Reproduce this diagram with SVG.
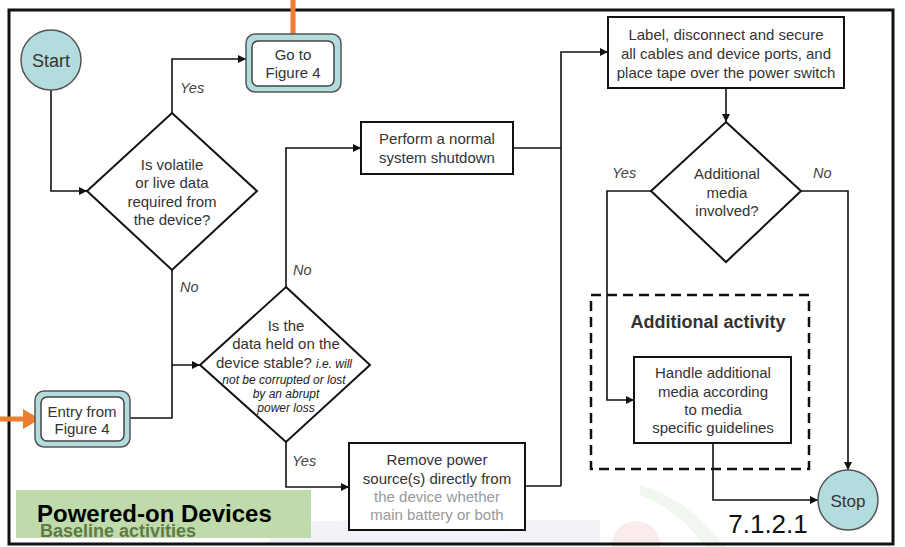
<svg xmlns="http://www.w3.org/2000/svg" width="905" height="547" viewBox="0 0 905 547">
<style>
  text { font-family: "Liberation Sans", Arial, sans-serif; fill: #333; }
  .t { font-size: 15px; text-anchor: middle; }
  .lab { font-size: 14.5px; font-style: italic; fill: #444; }
  .sm { font-size: 12px; font-style: italic; fill: #222; }
  .box { fill: #fff; stroke: #111; stroke-width: 2; }
  .dia { fill: #fff; stroke: #111; stroke-width: 2; }
  .term { fill: #b3dcdf; stroke: #555; stroke-width: 1.5; }
  .outer { fill: #b3dcdf; stroke: #555; stroke-width: 1.5; }
  .inner { fill: #fff; stroke: #444; stroke-width: 1.5; }
  .c { fill: none; stroke: #111; stroke-width: 1.6; marker-end: url(#ah); }
  .cn { fill: none; stroke: #111; stroke-width: 1.6; }
</style>
<defs>
  <marker id="ah" viewBox="0 0 10 10" refX="10" refY="5" markerWidth="8" markerHeight="8" markerUnits="userSpaceOnUse" orient="auto">
    <path d="M0,0 L10,5 L0,10 z" fill="#111"/>
  </marker>
</defs>
<rect width="905" height="547" fill="#fff"/>
<!-- faint watermark -->
<g id="watermark" opacity="0.45">
  <path d="M270,543 L270,522 L380,520 Q420,500 470,520 L600,520 L600,543 z" fill="#e4e2f0"/>
  <circle cx="636" cy="545" r="24" fill="#f7d3d3"/>
  <path d="M640,485 Q690,500 725,547 L705,547 Q680,510 640,495 z" fill="#dcefdc"/>
</g>
<rect id="frame" x="9" y="10" width="884" height="534" fill="none" stroke="#111" stroke-width="3"/>

<g id="connectors">
  <polyline class="c" points="51,90 51,191 87,191"/>
  <polyline class="c" points="172,113 172,59 246,59"/>
  <polyline class="c" points="172,270 172,365 200,365"/>
  <polyline class="cn" points="130,418 172,418 172,365"/>
  <polyline class="c" points="286,287 286,148 361,148"/>
  <polyline class="cn" points="513,148 561,148"/>
  <polyline class="c" points="561,486 561,52 608,52"/>
  <polyline class="c" points="286,442 286,487 349,487"/>
  <polyline class="cn" points="525,486 561,486"/>
  <polyline class="c" points="726,88 726,122"/>
  <polyline class="c" points="651,191 607,191 607,400 634,400"/>
  <polyline class="c" points="801,191 848,191 848,470"/>
  <polyline class="c" points="713,443 713,500 818,500"/>
  <!-- orange off-page links -->
  <line x1="293" y1="0" x2="293" y2="34" stroke="#ed7d31" stroke-width="5"/>
  <line x1="0" y1="419" x2="25" y2="419" stroke="#ed7d31" stroke-width="5"/>
  <path d="M23,409 L40,419 L23,429 z" fill="#ed7d31"/>
</g>

<g id="start">
  <circle class="term" cx="51" cy="60" r="30"/>
  <text x="51" y="67" text-anchor="middle" style="font-size:18px">Start</text>
</g>

<g id="goto">
  <rect class="outer" x="246" y="34" width="95" height="58" rx="9"/>
  <rect class="inner" x="252" y="41" width="82" height="45" rx="6"/>
  <text class="t" x="293" y="60">Go to</text>
  <text class="t" x="293" y="78">Figure 4</text>
</g>

<g id="q1">
  <polygon class="dia" points="172,113 257,191 172,270 87,191"/>
  <text class="t" x="172" y="170">Is volatile</text>
  <text class="t" x="172" y="188">or live data</text>
  <text class="t" x="172" y="207">required from</text>
  <text class="t" x="172" y="225">the device?</text>
</g>

<g id="entry">
  <rect class="outer" x="35" y="391" width="95" height="56" rx="9"/>
  <rect class="inner" x="41" y="397" width="83" height="44" rx="6"/>
  <text class="t" x="82" y="417">Entry from</text>
  <text class="t" x="82" y="434">Figure 4</text>
</g>

<g id="q2">
  <polygon class="dia" points="286,287 370,365 286,442 200,365"/>
  <text class="t" x="286" y="331">Is the</text>
  <text class="t" x="286" y="349">data held on the</text>
  <text x="284" y="368" text-anchor="middle" style="font-size:15px">device stable? <tspan style="font-size:12px;font-style:italic;fill:#222">i.e. will</tspan></text>
  <text class="sm" x="284" y="384" text-anchor="middle">not be corrupted or lost</text>
  <text class="sm" x="286" y="398" text-anchor="middle">by an abrupt</text>
  <text class="sm" x="286" y="412" text-anchor="middle">power loss</text>
</g>

<g id="shutdown">
  <rect class="box" x="361" y="122" width="152" height="52"/>
  <text class="t" x="437" y="144">Perform a normal</text>
  <text class="t" x="437" y="163">system shutdown</text>
</g>

<g id="remove">
  <rect class="box" x="349" y="443" width="176" height="87"/>
  <text class="t" x="437" y="465">Remove power</text>
  <text class="t" x="437" y="484">source(s) directly from</text>
  <text class="t" x="437" y="502" style="fill:#999">the device whether</text>
  <text class="t" x="437" y="520" style="fill:#999">main battery or both</text>
</g>

<g id="label">
  <rect class="box" x="608" y="17" width="236" height="71"/>
  <text class="t" x="726" y="40">Label, disconnect and secure</text>
  <text class="t" x="726" y="59">all cables and device ports, and</text>
  <text class="t" x="726" y="78">place tape over the power switch</text>
</g>

<g id="q3">
  <polygon class="dia" points="726,122 801,191 726,262 651,191"/>
  <text class="t" x="727" y="179">Additional</text>
  <text class="t" x="727" y="198">media</text>
  <text class="t" x="727" y="216">involved?</text>
</g>

<g id="additional">
  <rect x="591" y="295" width="218" height="174" fill="none" stroke="#111" stroke-width="2.5" stroke-dasharray="10,6"/>
  <text x="708" y="328" text-anchor="middle" style="font-size:18px;font-weight:bold">Additional activity</text>
</g>

<g id="handle">
  <rect class="box" x="634" y="357" width="157" height="86"/>
  <text class="t" x="713" y="378">Handle additional</text>
  <text class="t" x="713" y="397">media according</text>
  <text class="t" x="713" y="415">to media</text>
  <text class="t" x="713" y="433">specific guidelines</text>
</g>

<g id="stop">
  <circle class="term" cx="848" cy="500" r="30"/>
  <text x="848" y="507" text-anchor="middle" style="font-size:17px">Stop</text>
</g>

<g id="edge-labels">
  <text class="lab" x="180" y="93">Yes</text>
  <text class="lab" x="180" y="292">No</text>
  <text class="lab" x="293" y="275">No</text>
  <text class="lab" x="292" y="466">Yes</text>
  <text class="lab" x="612" y="178">Yes</text>
  <text class="lab" x="813" y="178">No</text>
</g>

<g id="banner">
  <rect x="16" y="490" width="295" height="48" fill="#bcd9a8" opacity="0.95"/>
  <text x="37" y="522" style="font-size:24px;font-weight:bold;fill:#000">Powered-on Devices</text>
  <text x="40" y="537" style="font-size:18px;font-weight:bold;fill:#5e7a45">Baseline activities</text>
</g>

<text id="section" x="768" y="533" text-anchor="middle" style="font-size:26px;fill:#111">7.1.2.1</text>
</svg>
